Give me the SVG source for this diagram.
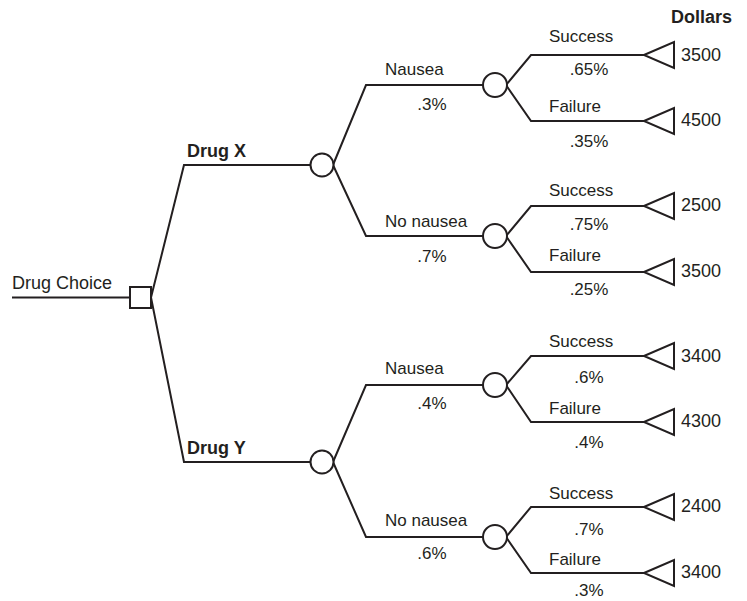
<svg xmlns="http://www.w3.org/2000/svg" width="747" height="601" viewBox="0 0 747 601">
<style>
.ln{fill:none;stroke:#231f20;stroke-width:2;stroke-linejoin:miter}
.nd{fill:#fff;stroke:#231f20;stroke-width:2}
text{font-family:"Liberation Sans",Arial,sans-serif;font-size:17px;fill:#231f20}
.b{font-weight:bold}
.m{text-anchor:middle}
.n{font-size:18px}
</style>
<defs>
<polygon id="tri" points="0,0 30,-13 30,13" class="nd"/>
</defs>
<rect width="747" height="601" fill="#fff"/>
<g id="connectors">
<path class="ln" d="M12,297.5H130"/>
<path class="ln" d="M151,297.5L184,165H311M151,297.5L184,462H311"/>
<path class="ln" d="M333,165L366,85H483M333,165L366,236H483"/>
<path class="ln" d="M333,462L366,385H483M333,462L366,537H483"/>
<path class="ln" d="M506,85L531,55H644M506,85L531,121H644"/>
<path class="ln" d="M506,236L531,206H644M506,236L531,272H644"/>
<path class="ln" d="M506,385L531,356H644M506,385L531,422H644"/>
<path class="ln" d="M506,537L531,507H644M506,537L531,573H644"/>
</g>
<g id="decision">
<rect class="nd" x="130" y="287" width="21" height="21"/>
<text x="12" y="289" style="font-size:18px">Drug Choice</text>
</g>
<g id="drugX">
<circle class="nd" cx="322" cy="165" r="11.5"/>
<text class="b" x="187" y="157" style="font-size:18px">Drug X</text>
</g>
<g id="drugY">
<circle class="nd" cx="322" cy="462" r="11.5"/>
<text class="b" x="187" y="454" style="font-size:18px">Drug Y</text>
</g>
<g id="x-nausea">
<circle class="nd" cx="495" cy="85" r="12"/>
<text x="385" y="75">Nausea</text>
<text class="m" x="432" y="110">.3%</text>
</g>
<g id="x-nonausea">
<circle class="nd" cx="495" cy="236" r="12"/>
<text x="385" y="227">No nausea</text>
<text class="m" x="432" y="262">.7%</text>
</g>
<g id="y-nausea">
<circle class="nd" cx="495" cy="385" r="12"/>
<text x="385" y="374">Nausea</text>
<text class="m" x="432" y="409">.4%</text>
</g>
<g id="y-nonausea">
<circle class="nd" cx="495" cy="537" r="12"/>
<text x="385" y="526">No nausea</text>
<text class="m" x="432" y="559">.6%</text>
</g>
<text class="b" x="671" y="23" style="font-size:18px">Dollars</text>
<g id="o1">
<use href="#tri" x="644" y="55"/>
<text x="549" y="42">Success</text>
<text class="m" x="589" y="75">.65%</text>
<text class="n" x="681" y="61">3500</text>
</g>
<g id="o2">
<use href="#tri" x="644" y="121"/>
<text x="549" y="112">Failure</text>
<text class="m" x="589" y="147">.35%</text>
<text class="n" x="681" y="126">4500</text>
</g>
<g id="o3">
<use href="#tri" x="644" y="206"/>
<text x="549" y="196">Success</text>
<text class="m" x="589" y="230">.75%</text>
<text class="n" x="681" y="211">2500</text>
</g>
<g id="o4">
<use href="#tri" x="644" y="272"/>
<text x="549" y="261">Failure</text>
<text class="m" x="589" y="295">.25%</text>
<text class="n" x="681" y="277">3500</text>
</g>
<g id="o5">
<use href="#tri" x="644" y="356"/>
<text x="549" y="347">Success</text>
<text class="m" x="589" y="383">.6%</text>
<text class="n" x="681" y="362">3400</text>
</g>
<g id="o6">
<use href="#tri" x="644" y="422"/>
<text x="549" y="414">Failure</text>
<text class="m" x="589" y="448">.4%</text>
<text class="n" x="681" y="427">4300</text>
</g>
<g id="o7">
<use href="#tri" x="644" y="507"/>
<text x="549" y="499">Success</text>
<text class="m" x="589" y="535">.7%</text>
<text class="n" x="681" y="512">2400</text>
</g>
<g id="o8">
<use href="#tri" x="644" y="573"/>
<text x="549" y="565">Failure</text>
<text class="m" x="589" y="596">.3%</text>
<text class="n" x="681" y="578">3400</text>
</g>
</svg>
